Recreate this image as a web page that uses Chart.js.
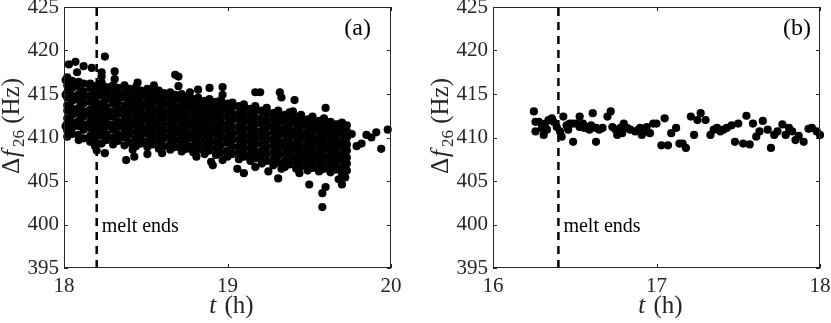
<!DOCTYPE html>
<html>
<head>
<meta charset="utf-8">
<script src="https://cdn.jsdelivr.net/npm/chart.js@4.4.1/dist/chart.umd.min.js"></script>
<style>
html, body { margin: 0; padding: 0; background: #fff; }
#wrap { position: relative; width: 831px; height: 323px; }
.pane { position: absolute; top: 0; height: 323px; }
</style>
</head>
<body>
<div id="wrap">
  <div class="pane" style="left:0;width:415px"><canvas id="chartA"></canvas></div>
  <div class="pane" style="left:415px;width:416px"><canvas id="chartB"></canvas></div>
</div>
<script>
// axis ticks
var yTicks = [395, 400, 405, 410, 415, 420, 425];
var xTicksA = [18, 19, 20];
var xTicksB = [16, 17, 18];
var meltA = 18.2, meltB = 16.4;   // "melt ends" markers (h)

// panel (a): dense cloud
var bandT = [18.02,18.05,18.09,18.12,18.16,18.19,18.23,18.26,18.30,18.33,18.37,18.40,18.44,18.47,18.51,18.54,18.58,18.61,18.65,18.68,
             18.72,18.75,18.79,18.82,18.86,18.89,18.93,18.96,19.00,19.03,19.07,19.10,19.14,19.17,19.21,19.24,19.28,19.31,19.35,19.38,
             19.42,19.45,19.49,19.52,19.56,19.59,19.63,19.66,19.70,19.73];
var bandV = [
  [410.1,410.8,411.6,412.2,413.1,413.7,414.6,415.2,416.0,416.9],
  [410.4,411.1,411.7,412.6,413.3,414.2,414.8,415.7,416.5],
  [409.7,410.3,411.3,411.9,412.8,413.4,414.3,415.0,415.9,416.4],
  [409.9,410.9,411.5,412.4,413.0,413.9,414.7,415.3,416.2],
  [409.5,410.2,411.1,411.8,412.6,413.2,414.1,414.8,415.7,416.2],
  [409.8,410.6,411.3,412.2,412.9,413.7,414.4,415.3,415.9],
  [409.3,410.2,410.9,411.7,412.4,413.2,413.9,414.8,415.5,416.3],
  [409.7,410.4,411.3,412.0,412.8,413.5,414.4,415.0,415.8],
  [409.2,410.0,410.9,411.5,412.4,413.0,413.9,414.6,415.4,416.0],
  [409.6,410.3,411.2,411.8,412.7,413.4,414.2,414.9,415.7],
  [409.1,410.0,410.7,411.5,412.2,413.0,413.7,414.6,415.2,416.0],
  [409.4,410.3,411.0,411.8,412.5,413.3,414.1,414.8,415.6],
  [409.0,409.8,410.6,411.4,412.1,412.9,413.6,414.4,415.2,415.8],
  [409.3,410.1,410.9,411.7,412.4,413.2,413.9,414.7,415.4],
  [408.9,409.6,410.5,411.2,412.0,412.7,413.5,414.2,415.0,415.6],
  [409.2,410.0,410.8,411.5,412.3,413.1,413.8,414.6,415.3],
  [408.7,409.5,410.3,411.1,411.8,412.6,413.3,414.1,414.8,415.4],
  [409.0,409.9,410.6,411.4,412.2,412.9,413.7,414.4,415.1],
  [408.6,409.3,410.1,410.9,411.7,412.4,413.2,413.9,414.7,415.2],
  [408.9,409.7,410.5,411.2,412.0,412.8,413.5,414.3,414.9],
  [408.4,409.2,410.0,410.8,411.5,412.3,413.0,413.8,414.5,415.0],
  [408.7,409.5,410.3,411.1,411.8,412.6,413.4,414.1,414.7],
  [408.3,409.0,409.9,410.6,411.4,412.1,412.9,413.6,414.4],
  [408.6,409.4,410.2,410.9,411.7,412.5,413.2,414.0,414.6],
  [408.1,408.9,409.7,410.5,411.3,412.0,412.8,413.5,414.2],
  [408.5,409.3,410.1,410.8,411.6,412.3,413.1,413.8,414.4],
  [408.0,408.8,409.6,410.4,411.1,411.9,412.7,413.4,414.1],
  [408.3,409.1,409.9,410.7,411.5,412.2,413.0,413.7,414.3],
  [407.8,408.5,409.4,410.1,410.9,411.6,412.4,413.2,413.9],
  [408.1,408.9,409.7,410.4,411.2,412.0,412.7,413.5,414.0],
  [407.5,408.3,409.0,409.8,410.6,411.3,412.1,412.8,413.6],
  [407.8,408.6,409.4,410.2,410.9,411.7,412.4,413.2,413.8],
  [407.3,408.0,408.8,409.6,410.3,411.1,411.9,412.6,413.3],
  [407.6,408.4,409.2,409.9,410.7,411.5,412.2,413.0,413.6],
  [407.0,407.8,408.5,409.3,410.1,410.8,411.6,412.3,413.1],
  [407.3,408.1,408.9,409.7,410.4,411.2,411.9,412.7,413.4],
  [406.8,407.5,408.3,409.1,409.8,410.6,411.3,412.1,412.8],
  [407.1,407.9,408.6,409.4,410.2,410.9,411.7,412.4,413.1],
  [406.6,407.3,408.1,408.9,409.6,410.4,411.1,411.9,412.6],
  [406.9,407.7,408.4,409.2,410.0,410.7,411.5,412.2,412.9],
  [406.4,407.2,407.9,408.7,409.4,410.2,410.9,411.7,412.4],
  [406.7,407.5,408.2,409.0,409.8,410.5,411.3,412.0,412.6],
  [406.2,407.0,407.7,408.5,409.2,410.0,410.7,411.5,412.1],
  [406.5,407.3,408.0,408.8,409.6,410.3,411.1,411.8,412.4],
  [406.1,406.8,407.6,408.3,409.1,409.8,410.6,411.3,411.9],
  [406.4,407.2,407.9,408.7,409.4,410.2,410.9,411.7,412.2],
  [406.0,406.7,407.5,408.2,409.0,409.7,410.5,411.2,411.8],
  [406.3,407.1,407.8,408.6,409.3,410.1,410.8,411.5],
  [405.9,406.6,407.4,408.1,408.9,409.6,410.4,411.1,411.7],
  [406.2,407.0,407.7,408.5,409.2,410.0,410.7,411.4]
];
// panel (a): scattered points outside the dense band, and the sparse tail
var spreadA = [
  [18.01,411.3],[18.01,414.9],[18.01,416.6],[18.03,418.4],[18.07,418.7],[18.08,417.5],[18.12,418.2],[18.17,418.0],
  [18.23,417.5],[18.23,417.0],[18.25,419.3],[18.31,417.6],[18.31,416.7],[18.45,416.3],[18.55,416.0],[18.68,417.2],
  [18.70,417.0],[18.70,415.9],[18.77,415.2],[18.82,415.5],[18.89,415.7],[18.97,415.8],[18.97,414.9],[19.17,415.2],
  [19.20,415.2],[19.32,415.2],[19.33,414.6],[19.41,414.3],[19.40,413.0],[19.60,413.4],[19.68,411.5],
  [18.19,409.0],[18.20,408.5],[18.25,408.2],[18.38,407.4],[18.43,407.8],[18.42,408.6],[18.51,408.1],[18.60,408.2],
  [18.81,407.8],[18.90,407.2],[18.91,406.8],[18.97,407.4],[19.06,406.4],[19.10,405.9],[19.17,406.6],[19.25,406.1],
  [19.31,405.3],[19.33,406.4],[19.44,405.9],[19.50,404.6],[19.58,403.6],[19.58,402.0],[19.60,404.3],[19.70,404.6],
  [19.72,405.4],[19.68,405.2],
  [19.76,410.4],[19.79,409.0],[19.82,409.3],[19.85,410.3],[19.88,410.0],[19.91,410.6],[19.94,408.7],[19.98,410.9]
];

// panel (b)
var pointsB = [
  [16.25,413.0],[16.26,411.8],[16.28,411.8],[16.26,410.7],[16.30,411.1],[16.31,410.3],[16.32,411.6],[16.33,410.9],
  [16.34,412.0],[16.36,412.2],[16.37,411.8],[16.39,411.2],[16.41,410.7],[16.42,410.1],[16.43,412.4],[16.45,411.4],
  [16.46,410.9],[16.47,411.6],[16.49,411.6],[16.49,409.5],[16.51,411.6],[16.53,412.4],[16.53,411.2],[16.55,411.6],
  [16.56,411.1],[16.58,411.2],[16.59,410.9],[16.60,411.4],[16.61,412.8],[16.63,411.1],[16.63,409.5],[16.65,410.9],
  [16.67,411.1],[16.70,412.4],[16.72,413.0],[16.73,411.2],[16.75,410.9],[16.76,410.3],[16.78,411.1],[16.79,410.5],
  [16.80,411.6],[16.82,411.1],[16.84,410.9],[16.87,410.7],[16.89,410.9],[16.90,411.1],[16.91,410.3],[16.93,410.7],
  [16.94,411.2],[16.96,410.5],[16.98,411.6],[17.00,411.6],[17.03,409.1],[17.05,412.2],[17.07,409.1],[17.09,410.5],
  [17.12,411.1],[17.14,409.3],[17.16,409.3],[17.18,408.8],[17.21,412.4],[17.23,410.3],[17.25,412.0],[17.27,412.8],
  [17.30,412.0],[17.33,410.3],[17.35,410.9],[17.37,411.1],[17.39,410.7],[17.41,410.9],[17.43,411.1],[17.46,411.4],
  [17.48,409.5],[17.50,411.6],[17.53,409.3],[17.55,412.5],[17.57,409.2],[17.59,411.6],[17.61,410.1],[17.63,410.7],
  [17.65,411.9],[17.68,410.9],[17.70,408.8],[17.72,410.3],[17.74,410.7],[17.77,411.5],[17.79,410.3],[17.81,411.1],
  [17.83,410.7],[17.85,409.7],[17.87,410.2],[17.90,409.5],[17.93,411.0],[17.95,411.1],[17.98,410.7],[18.00,410.3]
];

var SERIF = '"Liberation Serif", "Times New Roman", serif';
var AXIS = '#262626';

function toXY(pairs) {
    return pairs.map(function(p) { return { x: p[0], y: p[1] }; });
}

var pointsA = [];
bandT.forEach(function(t, i) {
    bandV[i].forEach(function(v) { pointsA.push({ x: t, y: v }); });
});
pointsA = pointsA.concat(toXY(spreadA));

// box, inward ticks, axis titles, panel tag and "melt ends" note
var decor = {
    id: 'decor',
    afterDraw: function(chart, args, o) {
        var c = chart.ctx, a = chart.chartArea;
        var xs = chart.scales.x, ys = chart.scales.y;
        c.save();
        c.strokeStyle = AXIS;
        c.lineWidth = 1;
        c.strokeRect(a.left + 0.5, a.top + 0.5, a.right - a.left - 1, a.bottom - a.top - 1);
        c.beginPath();
        xs.ticks.forEach(function(t) {
            var px = Math.round(xs.getPixelForValue(t.value)) + 0.5;
            c.moveTo(px, a.bottom); c.lineTo(px, a.bottom - 4);
            c.moveTo(px, a.top); c.lineTo(px, a.top + 4);
        });
        ys.ticks.forEach(function(t) {
            var py = Math.round(ys.getPixelForValue(t.value)) + 0.5;
            c.moveTo(a.left, py); c.lineTo(a.left + 4, py);
            c.moveTo(a.right, py); c.lineTo(a.right - 4, py);
        });
        c.stroke();

        c.fillStyle = '#000';
        c.textBaseline = 'middle';
        c.textAlign = 'left';
        c.font = '20px ' + SERIF;
        c.fillText('melt ends', xs.getPixelForValue(o.melt) + 5, ys.getPixelForValue(399.7));

        c.textAlign = 'right';
        c.font = '24px ' + SERIF;
        c.fillText(o.tag, a.right - o.tagGap, a.top + 22);

        // y title: Δ f_26 (Hz), rotated
        c.fillStyle = AXIS;
        c.textBaseline = 'alphabetic';
        c.textAlign = 'left';
        var parts = [
            { s: '\u0394', f: '25px ' + SERIF, dy: 0, gap: 1 },
            { s: 'f', f: 'italic 25px ' + SERIF, dy: 0, gap: 3 },
            { s: '26', f: '17px ' + SERIF, dy: 5, gap: 0 },
            { s: ' (Hz)', f: '25px ' + SERIF, dy: 0, gap: 0 }
        ];
        var total = 0;
        parts.forEach(function(p) { c.font = p.f; p.w = c.measureText(p.s).width; total += p.w + p.gap; });
        c.translate(a.left - 45, 126);
        c.rotate(-Math.PI / 2);
        var x0 = -total / 2;
        parts.forEach(function(p) { c.font = p.f; c.fillText(p.s, x0, p.dy); x0 += p.w + p.gap; });
        c.setTransform(1, 0, 0, 1, 0, 0);

        // x title: t (h)
        var xp = [
            { s: 't', f: 'italic 25px ' + SERIF, gap: 2 },
            { s: ' (h)', f: '25px ' + SERIF, gap: 0 }
        ];
        var tw = 0;
        xp.forEach(function(p) { c.font = p.f; p.w = c.measureText(p.s).width; tw += p.w + p.gap; });
        var xx = (a.left + a.right) / 2 + 4 - tw / 2;
        xp.forEach(function(p) { c.font = p.f; c.fillText(p.s, xx, 313); xx += p.w + p.gap; });
        c.restore();
    }
};

function makeChart(id, pts, xTicks, melt, tag, tagGap, yWidth, padRight) {
    var ctx = document.getElementById(id).getContext('2d');
    return new Chart(ctx, {
        type: 'scatter',
        data: {
            datasets: [{
                data: pts,
                backgroundColor: '#000',
                borderColor: '#000',
                pointRadius: 4.1,
                pointBorderWidth: 0,
                pointHoverRadius: 4.1,
                clip: false,
                order: 1
            }, {
                type: 'line',
                data: [{ x: melt, y: yTicks[0] }, { x: melt, y: yTicks[yTicks.length - 1] }],
                borderColor: '#000',
                borderWidth: 2.5,
                borderDash: [8, 6],
                pointRadius: 0,
                fill: false,
                order: 2
            }]
        },
        options: {
            responsive: true,
            maintainAspectRatio: false,
            animation: false,
            events: [],
            layout: { padding: { top: 7, right: padRight, left: 0, bottom: 0 } },
            plugins: {
                legend: { display: false },
                tooltip: { enabled: false },
                decor: { melt: melt, tag: tag, tagGap: tagGap }
            },
            scales: {
                x: {
                    type: 'linear',
                    min: xTicks[0],
                    max: xTicks[xTicks.length - 1],
                    afterBuildTicks: function(s) { s.ticks = xTicks.map(function(v) { return { value: v }; }); },
                    afterFit: function(s) { s.height = 55; s.paddingLeft = 0; s.paddingRight = 0; },
                    grid: { display: false, drawTicks: false },
                    border: { display: false },
                    ticks: { color: AXIS, padding: 6, font: { family: SERIF, size: 21 } }
                },
                y: {
                    min: yTicks[0],
                    max: yTicks[yTicks.length - 1],
                    afterBuildTicks: function(s) { s.ticks = yTicks.map(function(v) { return { value: v }; }); },
                    afterFit: function(s) { s.width = yWidth; s.paddingTop = 0; s.paddingBottom = 0; },
                    grid: { display: false, drawTicks: false },
                    border: { display: false },
                    ticks: { color: AXIS, padding: 5, font: { family: SERIF, size: 21 } }
                }
            }
        },
        plugins: [decor]
    });
}

makeChart('chartA', pointsA, xTicksA, meltA, '(a)', 20, 64, 24);
makeChart('chartB', toXY(pointsB), xTicksB, meltB, '(b)', 9, 78, 11);
</script>
</body>
</html>
